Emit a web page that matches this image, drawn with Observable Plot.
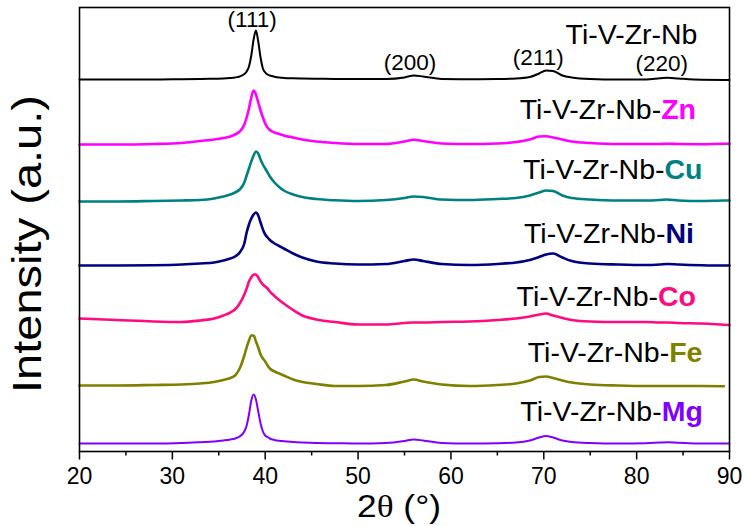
<!DOCTYPE html>
<html><head><meta charset="utf-8">
<script src="https://cdn.jsdelivr.net/npm/d3@7"></script>
<script src="https://cdn.jsdelivr.net/npm/@observablehq/plot@0.6"></script>
<style>body{margin:0;background:#fff;color:#000} #chart svg{display:block}</style>
</head><body><div id="chart"></div>
<script>
// 2θ sampling grid (degrees)
const twoTheta = [20,24,28,31,33,34.5,35.5,36.25,36.75,37.25,37.75,38,38.25,38.5,38.75,39,39.25,39.5,39.75,40,40.25,40.5,41,41.5,42,43,44,45.5,47.5,50,53,55,56,57,59,62,65,67,68.5,69.5,70.25,71,72,73,75,78,81,82.5,83.3,84.5,87,89.4,90];

// Intensities (a.u.) above each pattern's baseline
const intBase = [0,0,0,0.3,0.5, 0.8,1,1.5,2,3, 5.5,8,13,24,40, 49,38,22,11,7, 5,4,2.8,2,1.6, 1.2,1,0.8,0.6,0.5, 0.5,2,4,3,0.5, 0.3,0.5,1,2.5,6, 9,8.5,4,2,0.5, 0,0,1.2,1.8,1, -0.3,-0.5,-0.5];
const intZn = [0,0,0.5,1.5,3.5, 5,6.5,8,10,13, 20,27,36,47,54, 50,42,34,27,21, 17,14.5,12,10.5,9, 7,5,3,1.5,0.5, 0.5,3,4.7,3.5,1, 0.5,1,2.5,5,8, 8.3,7,5,3,1.5, 0.5,0.5,0.5,0.8,0.5, 0.3,0.7,0.7];
const intCu = [0,0,0.5,1,1.5, 3,5,7,9,12, 19,26,33,40,46, 50,48,42,37,33, 29,25,19,14.5,11, 7,4.5,2.5,1.2,0.5, 1.5,3.5,5,4.5,2, 1.5,2.5,3.5,6,9, 11,10.5,6,3.5,2, 1,1,1.5,2,1, 0.5,1,1];
const intNi = [0,0,0.3,1,2, 3,5,7,9,13, 22,33,41,47,51, 53,50,43,36,31, 28,25.5,22,19.5,17, 12,8,4,2,1, 1.5,4.5,6,4.5,1.5, 0.5,1.5,3,5.5,8.5, 11,12,8,4.5,2, 1,0.5,1,1.5,1, 0.3,0,0];
const intCo = [3,1.5,0,-0.5,1, 3,6,9,12,18, 27,33,40,44,47, 47,44,40,37,35, 33,30,25.5,21.5,18, 11.5,6,2,-0.5,-3, -3,-1.5,-1,-1,-0.5, 0,1.5,3,5,7, 8,6,3.5,1.5,0, -0.5,-0.5,-1,-1,-1.5, -2,-3.2,-3.5];
const intFe = [0,0,0.5,1,2, 3.5,5.5,7.5,10,17, 30,38,45,50,50, 44,38,31,27,24, 20,17,14,12,10, 6,3.5,1.5,-0.5,-0.5, 0.5,4,6,4,1, -0.5,0.5,2,5,8.5, 9,7.5,5,3,1, 0,-0.5,-0.5,-0.5,-0.5, -0.5,-0.7,null];
const intMg = [0,0,0,0.5,1.3, 2,3,4,5,7, 12,18,29,43,49, 44,32,20,12,8, 6.5,5,3.5,2.7,2.3, 1.5,1,0.5,0.3,0, 0.5,2.5,4,3,0.5, 0,0.3,1,3,6, 7.5,6,3,1.5,0.5, 0,0.3,1,1.3,0.8, 0,0,0];

const sampleBase = "Ti-V-Zr-Nb";
const dopants = ["", "Zn", "Cu", "Ni", "Co", "Fe", "Mg"];
const colors = ["#000000", "#ff00ff", "#008080", "#000080", "#ff0a80", "#808000", "#8000ff"];
const stackOffsets = [372, 307, 250, 186, 130, 66, 8];
const patterns = [intBase, intZn, intCu, intNi, intCo, intFe, intMg];

const peakLabels = ["(111)", "(200)", "(211)", "(220)"];
const peakLabelX = [38.6, 55.6, 69.4, 82.7];
const peakLabelY = [432, 389, 394, 388];

// label anchors (2θ, intensity) for sample names
const nameX = [86.55, 82.64, 83.0, 83.1, 82.3, 83.5, 82.7];
const nameY = [417, 342, 282, 217.5, 155, 98.5, 40];

const FONT = "'Liberation Sans', Arial, sans-serif";

const marks = [];
patterns.forEach((vals, i) => {
  const rows = [];
  twoTheta.forEach((t, j) => { if (vals[j] != null) rows.push({x: t, y: vals[j] + stackOffsets[i]}); });
  marks.push(Plot.line(rows, {x: "x", y: "y", stroke: colors[i], strokeWidth: (i === 0 || i === 6) ? 2 : 2.6, curve: "monotone-x"}));
});
// sample name labels
marks.push(Plot.text([0], {x: () => nameX[0], y: () => nameY[0], text: () => sampleBase, textAnchor: "end", fontSize: 28.5, fill: "black"}));
for (let i = 1; i < dopants.length; i++) {
  marks.push(Plot.text([i], {x: d => nameX[d], y: d => nameY[d], text: () => sampleBase + "-", textAnchor: "end", fontSize: 28.5, fill: "black"}));
  marks.push(Plot.text([i], {x: d => nameX[d], y: d => nameY[d], text: d => dopants[d], textAnchor: "start", fontSize: 28.5, fontWeight: "bold", fill: colors[i]}));
}
marks.push(Plot.text(peakLabels, {x: (d, i) => peakLabelX[i], y: (d, i) => peakLabelY[i], text: d => d, fontSize: 22.5, fill: "black"}));
marks.push(Plot.axisX({ticks: d3.range(25, 90, 10), tickSize: 4.5, tickFormat: () => "", strokeWidth: 1.5, label: null}));
marks.push(Plot.axisX({ticks: d3.range(20, 91, 10), tickSize: 8.5, tickPadding: 8, fontSize: 23, strokeWidth: 1.5, label: null}));
marks.push(Plot.frame({stroke: "black", strokeWidth: 1.6}));

const chart = Plot.plot({
  width: 744, height: 526,
  marginLeft: 79, marginRight: 15, marginTop: 7, marginBottom: 75,
  style: {fontFamily: FONT, background: "white", color: "black"},
  x: {domain: [20, 90], label: null},
  y: {domain: [0, 444], axis: null},
  marks
});

const svg = d3.select(chart);
svg.append("text")
  .attr("transform", "translate(41,244) rotate(-90)")
  .attr("text-anchor", "middle")
  .attr("font-family", FONT).attr("font-size", 40).attr("fill", "black")
  .attr("textLength", 298).attr("lengthAdjust", "spacingAndGlyphs")
  .text("Intensity (a.u.)");
const xl = svg.append("text")
  .attr("x", 399).attr("y", 517)
  .attr("text-anchor", "middle")
  .attr("font-family", FONT).attr("font-size", 31).attr("fill", "black")
  .attr("textLength", 84).attr("lengthAdjust", "spacingAndGlyphs");
xl.append("tspan").text("2");
xl.append("tspan").attr("font-family", "'Liberation Serif', 'DejaVu Serif', serif").text("θ");
xl.append("tspan").text(" (°)");

document.getElementById("chart").appendChild(chart);
</script>
</body></html>
